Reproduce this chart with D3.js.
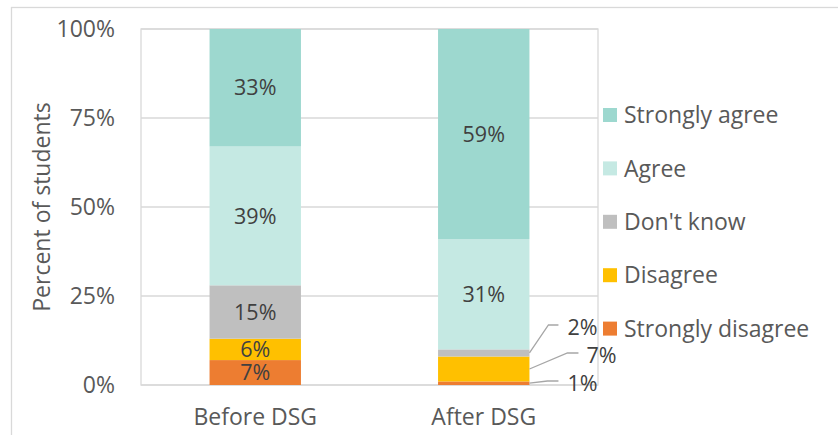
<!DOCTYPE html>
<html>
<head>
<meta charset="utf-8">
<script src="https://cdn.jsdelivr.net/npm/d3@7"></script>
<style>
  html, body { margin: 0; padding: 0; background: #fff; }
  svg { display: block; font-family: "Open Sans", Lato, sans-serif; }
</style>
</head>
<body>
<svg id="chart" width="838" height="435"></svg>
<script>
// Survey responses, percent of students
const categories = ["Before DSG", "After DSG"];
const seriesNames = ["Strongly disagree", "Disagree", "Don't know", "Agree", "Strongly agree"];
const seriesColors = ["#ED7D31", "#FFC000", "#BFBFBF", "#C5E9E3", "#9DD8CF"];
const stronglyDisagree = [7, 1];
const disagree = [6, 7];
const dontKnow = [15, 2];
const agree = [39, 31];
const stronglyAgree = [33, 59];
const yTicks = [0, 25, 50, 75, 100];

const seriesValues = [stronglyDisagree, disagree, dontKnow, agree, stronglyAgree];
const rows = categories.map((c, i) => {
  const r = { category: c };
  seriesNames.forEach((s, k) => { r[s] = seriesValues[k][i]; });
  return r;
});

const svg = d3.select("#chart");
const plot = { left: 141, top: 29, right: 598, bottom: 385 };
const axisColor = "#D9D9D9";
const textColor = "#595959";
const labelColor = "#404040";
const fontSize = 23;
const valueFontSize = 21.5;

// outer chart frame
svg.append("rect")
  .attr("x", 11.5).attr("y", 7.5)
  .attr("width", 860).attr("height", 460)
  .attr("fill", "none").attr("stroke", axisColor).attr("stroke-width", 1.3);

const x = d3.scaleBand().domain(categories).range([plot.left, plot.right]).paddingInner(0.6).paddingOuter(0.3);
const y = d3.scaleLinear().domain([0, 100]).range([plot.bottom, plot.top]);

// gridlines
svg.append("g").selectAll("line").data(yTicks).join("line")
  .attr("x1", plot.left).attr("x2", plot.right)
  .attr("y1", d => y(d)).attr("y2", d => y(d))
  .attr("stroke", axisColor).attr("stroke-width", 1.3);

// plot frame
svg.append("rect")
  .attr("x", plot.left).attr("y", plot.top)
  .attr("width", plot.right - plot.left).attr("height", plot.bottom - plot.top)
  .attr("fill", "none").attr("stroke", axisColor).attr("stroke-width", 1.3);

// y axis
const yAxis = svg.append("g")
  .attr("transform", `translate(${plot.left},0)`)
  .call(d3.axisLeft(y).tickValues(yTicks).tickFormat(d => d + "%").tickSize(0).tickPadding(26));
yAxis.select(".domain").remove();
yAxis.selectAll("text").attr("fill", textColor).style("font-size", fontSize + "px").style("font-family", "Open Sans");

// x axis labels
const xAxis = svg.append("g")
  .attr("transform", `translate(0,${plot.bottom})`)
  .call(d3.axisBottom(x).tickSize(0).tickPadding(24));
xAxis.select(".domain").remove();
xAxis.selectAll("text").attr("fill", textColor).style("font-size", fontSize + "px").style("font-family", "Open Sans");

// y title
svg.append("text")
  .attr("transform", `translate(50,${(plot.top + plot.bottom) / 2}) rotate(-90)`)
  .attr("text-anchor", "middle")
  .attr("fill", textColor).style("font-size", fontSize + "px")
  .text("Percent of students");

// stacked bars
const stack = d3.stack().keys(seriesNames)(rows);
const layers = svg.append("g").selectAll("g").data(stack).join("g")
  .attr("fill", (d, i) => seriesColors[i]);
layers.selectAll("rect").data(d => d.map(p => ({ p, key: d.key }))).join("rect")
  .attr("x", d => x(d.p.data.category))
  .attr("width", x.bandwidth())
  .attr("y", d => y(d.p[1]))
  .attr("height", d => y(d.p[0]) - y(d.p[1]));

// labels placed beside the thin "After DSG" segments, joined by leader lines
const outsidePlacement = {
  "After DSG|Don't know": { ly: 325, bend: 19, end: 29, tx: 38 },
  "After DSG|Disagree": { ly: 353, bend: 38, end: 49, tx: 57 },
  "After DSG|Strongly disagree": { ly: 381, bend: 18, end: 29, tx: 38 }
};
const labelsG = svg.append("g");
stack.forEach(layer => {
  layer.forEach(p => {
    const v = p[1] - p[0];
    const cx = x(p.data.category) + x.bandwidth() / 2;
    const cy = (y(p[0]) + y(p[1])) / 2;
    const o = outsidePlacement[p.data.category + "|" + layer.key];
    if (!o) {
      labelsG.append("text")
        .attr("x", cx).attr("y", cy).attr("dy", "0.36em")
        .attr("text-anchor", "middle")
        .attr("fill", labelColor).style("font-size", valueFontSize + "px")
        .text(v + "%");
    } else {
      const bx = x(p.data.category) + x.bandwidth();
      labelsG.append("polyline")
        .attr("points", `${bx},${cy} ${bx + o.bend},${o.ly} ${bx + o.end},${o.ly}`)
        .attr("fill", "none").attr("stroke", "#A6A6A6").attr("stroke-width", 1.3);
      labelsG.append("text")
        .attr("x", bx + o.tx).attr("y", o.ly + 2).attr("dy", "0.36em")
        .attr("fill", labelColor).style("font-size", valueFontSize + "px")
        .text(v + "%");
    }
  });
});

// legend, top series first
const legendItems = seriesNames.map((n, i) => ({ n, c: seriesColors[i] })).reverse();
const legend = svg.append("g").selectAll("g").data(legendItems).join("g")
  .attr("transform", (d, i) => `translate(603,${115 + i * 53.4})`);
legend.append("rect").attr("x", 0).attr("y", -7).attr("width", 14).attr("height", 14).attr("fill", d => d.c);
legend.append("text").attr("x", 21).attr("y", 0).attr("dy", "0.36em")
  .attr("fill", textColor).style("font-size", fontSize + "px")
  .text(d => d.n);
</script>
</body>
</html>
